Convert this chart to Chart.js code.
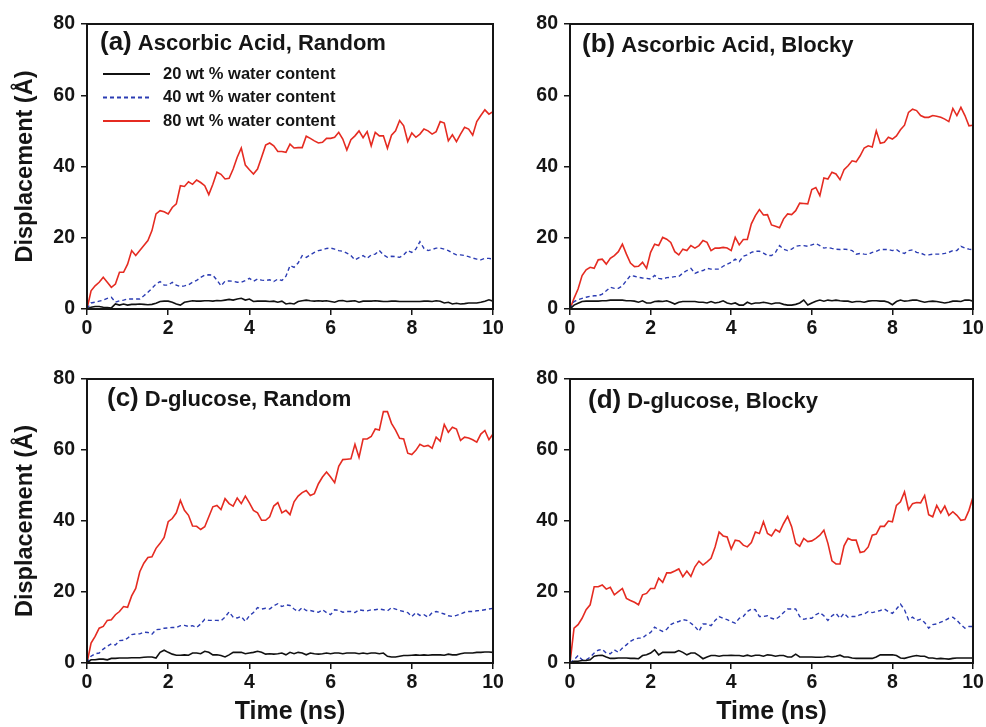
<!DOCTYPE html>
<html>
<head>
<meta charset="utf-8">
<script src="https://cdn.jsdelivr.net/npm/chart.js@4.4.0/dist/chart.umd.min.js"></script>
<style>
    html, body { margin: 0; padding: 0; background: #fff; }
    #wrap { position: relative; width: 986px; height: 727px; overflow: hidden; }
    #wrap canvas { position: absolute; }
</style>
</head>
<body>
<div id="wrap">
    <canvas id="chartA" width="510" height="350" style="left:0;top:0"></canvas>
    <canvas id="chartB" width="506" height="350" style="left:480px;top:0"></canvas>
    <canvas id="chartC" width="510" height="372" style="left:0;top:355px"></canvas>
    <canvas id="chartD" width="506" height="372" style="left:480px;top:355px"></canvas>
</div>
<script>
// sampling interval of the trajectories (ns)
const sampleStepNs = 0.1;

const seriesLabels = ['20 wt % water content', '40 wt % water content', '80 wt % water content'];
const panelTags = ['(a)', '(b)', '(c)', '(d)'];
const panelNames = ['Ascorbic Acid, Random', 'Ascorbic Acid, Blocky', 'D-glucose, Random', 'D-glucose, Blocky'];

// (a) ascorbic acid, random
const acidRandom20 = [0, 0.5, 0.7, 0.7, 0.5, 0.4, 0.3, 1.4, 1.1, 1.4, 1.1,
    1.3, 1.3, 1.4, 1.3, 1.2, 1.3, 1.6, 2.1, 2.2, 2.2,
    1.9, 1.4, 1.1, 1.9, 2.1, 2.3, 2.2, 2.2, 2.3, 2.3,
    2.2, 2.4, 2.3, 2.5, 2.7, 2.5, 2.8, 3.0, 2.5, 2.8,
    2.1, 2.2, 2.2, 2.2, 2.1, 2.2, 1.9, 2.2, 1.4, 1.6,
    1.4, 2.1, 2.3, 2.5, 2.3, 2.2, 2.3, 2.2, 2.3, 2.1,
    1.9, 2.3, 2.4, 2.1, 2.2, 2.3, 1.9, 2.2, 2.2, 2.2,
    2.3, 2.2, 2.1, 2.1, 2.2, 2.2, 2.1, 2.1, 2.1, 2.1,
    2.1, 2.1, 2.2, 2.2, 2.1, 2.3, 2.2, 1.7, 1.9, 1.4,
    1.6, 1.4, 1.5, 1.7, 1.7, 1.7, 1.9, 2.2, 2.6, 2.2];
const acidRandom40 = [0, 1.7, 1.9, 2.2, 2.5, 3.0, 3.3, 1.9, 2.3, 2.5, 2.8,
    2.8, 2.8, 2.8, 3.7, 4.7, 5.8, 7.0, 7.7, 6.7, 6.7,
    7.5, 6.7, 6.3, 6.5, 6.8, 7.5, 8.0, 8.9, 9.5, 9.6,
    9.5, 8.1, 6.5, 7.8, 7.9, 7.8, 7.5, 7.5, 8.0, 8.6,
    7.8, 8.4, 8.1, 8.0, 8.2, 7.7, 8.4, 8.0, 9.2, 12.2,
    11.7, 12.9, 15.0, 14.5, 15.2, 15.9, 16.4, 16.6, 17.0, 17.1,
    16.8, 16.4, 16.2, 15.7, 15.0, 13.8, 14.4, 15.0, 14.2, 15.2,
    15.4, 16.4, 15.2, 14.5, 14.8, 14.7, 14.5, 15.2, 16.4, 15.9,
    16.8, 18.9, 17.0, 16.4, 16.7, 17.1, 17.1, 16.8, 16.4, 15.7,
    15.2, 15.2, 15.0, 14.7, 14.3, 14.0, 13.8, 14.2, 14.2, 14.0];
const acidRandom80 = [0, 5.1, 6.5, 7.5, 8.9, 7.5, 6.1, 7.0, 10.3, 10.3, 12.6,
    16.4, 15.0, 16.4, 17.8, 19.2, 22.0, 26.7, 27.6, 27.3, 26.7,
    28.5, 29.5, 34.6, 34.4, 35.7, 35.0, 36.2, 35.5, 34.6, 32.1,
    35.0, 38.4, 37.8, 36.5, 36.7, 39.3, 42.6, 45.2, 40.4, 39.1,
    37.9, 39.3, 42.6, 46.0, 46.6, 45.8, 44.2, 44.2, 44.0, 46.3,
    45.2, 45.3, 45.3, 48.5, 47.9, 47.2, 46.6, 46.8, 47.9, 47.9,
    48.2, 49.6, 47.7, 44.6, 47.5, 48.6, 50.0, 48.1, 49.8, 45.8,
    49.6, 48.6, 48.6, 45.1, 48.8, 50.0, 52.9, 51.4, 47.0, 49.4,
    48.2, 49.1, 50.5, 50.0, 49.1, 49.8, 52.6, 52.2, 47.2, 48.9,
    47.0, 49.1, 51.0, 50.5, 48.8, 52.6, 54.3, 55.9, 54.7, 55.4];

// (b) ascorbic acid, blocky
const acidBlocky20 = [0, 1.1, 1.6, 2.1, 2.2, 2.2, 2.2, 2.2, 2.3, 2.3, 2.5,
    2.5, 2.5, 2.5, 2.3, 2.3, 2.2, 1.9, 2.3, 1.7, 1.7,
    2.1, 2.2, 2.1, 2.3, 1.9, 1.4, 1.9, 2.1, 2.1, 2.1,
    2.1, 1.9, 1.9, 1.7, 2.1, 1.7, 1.9, 2.3, 1.7, 1.4,
    1.7, 1.1, 1.1, 1.9, 1.4, 1.7, 1.7, 1.9, 1.7, 1.4,
    1.7, 1.7, 1.3, 1.1, 1.1, 1.3, 1.7, 2.5, 1.1, 1.7,
    2.2, 2.5, 2.2, 2.5, 2.3, 2.5, 2.3, 2.2, 2.2, 1.9,
    2.1, 2.1, 1.9, 2.2, 2.3, 2.3, 2.2, 2.2, 1.9, 1.2,
    2.1, 2.5, 2.2, 2.3, 2.5, 2.5, 2.2, 1.9, 2.1, 2.2,
    2.1, 1.9, 1.7, 1.9, 2.2, 2.2, 2.1, 2.5, 2.5, 2.2];
const acidBlocky40 = [0, 2.1, 2.6, 3.0, 3.3, 3.6, 3.7, 3.7, 4.2, 5.1, 6.1,
    5.8, 5.8, 6.5, 8.0, 9.4, 9.2, 8.9, 8.7, 8.6, 8.4,
    9.4, 8.6, 8.4, 8.8, 8.9, 9.1, 9.1, 10.1, 10.8, 11.4,
    10.0, 10.5, 10.8, 11.4, 11.2, 11.2, 11.2, 12.0, 12.6, 13.1,
    14.0, 13.3, 14.8, 15.2, 15.9, 16.2, 16.2, 15.7, 15.0, 15.0,
    15.9, 17.8, 16.8, 16.4, 16.8, 17.6, 17.8, 17.8, 17.6, 18.0,
    18.4, 17.8, 17.1, 17.3, 17.0, 16.8, 16.7, 16.8, 16.7, 16.4,
    15.4, 15.6, 15.4, 15.3, 15.9, 16.2, 16.7, 16.7, 16.7, 16.4,
    16.7, 15.9, 15.6, 16.4, 16.6, 15.9, 15.7, 15.2, 15.2, 15.4,
    15.4, 15.4, 15.6, 15.9, 16.4, 16.4, 17.6, 17.1, 16.8, 16.6];
const acidBlocky80 = [0, 3.0, 5.6, 9.4, 11.0, 11.7, 11.4, 13.8, 14.0, 12.6, 14.2,
    15.0, 16.1, 18.2, 15.4, 12.9, 11.9, 12.0, 13.1, 11.4, 15.9,
    18.2, 17.8, 20.1, 19.6, 18.7, 16.1, 15.2, 16.8, 16.4, 17.8,
    17.1, 17.8, 19.2, 18.7, 16.4, 17.1, 17.1, 17.3, 17.1, 16.4,
    20.1, 18.0, 19.5, 19.5, 23.9, 26.2, 27.9, 26.4, 26.5, 23.6,
    23.2, 22.8, 25.3, 26.7, 26.5, 27.6, 29.7, 29.6, 29.5, 33.5,
    34.1, 31.8, 36.8, 36.5, 38.4, 37.9, 36.3, 39.1, 40.2, 41.6,
    41.3, 43.0, 45.2, 45.8, 45.5, 50.0, 46.5, 46.8, 48.2, 47.7,
    48.6, 50.3, 51.6, 55.2, 56.1, 55.7, 54.3, 53.8, 53.8, 54.3,
    54.1, 53.8, 53.3, 52.6, 56.3, 54.3, 56.6, 54.3, 51.4, 51.6];

// (c) D-glucose, random
const glucoseRandom20 = [0, 0.9, 0.9, 1.1, 1.1, 0.9, 1.3, 1.3, 1.4, 1.4, 1.4,
    1.5, 1.5, 1.5, 1.6, 1.7, 1.7, 1.4, 3.0, 3.6, 3.0,
    2.5, 2.2, 2.2, 2.3, 2.2, 2.8, 2.8, 2.6, 3.3, 3.0,
    2.3, 2.3, 2.1, 1.7, 2.3, 3.0, 3.0, 3.0, 2.6, 2.8,
    3.0, 3.3, 3.0, 2.5, 2.6, 2.5, 2.6, 2.8, 2.3, 3.0,
    2.6, 3.0, 2.8, 2.3, 2.8, 2.6, 2.5, 2.6, 2.8, 2.6,
    2.8, 2.8, 2.6, 2.8, 2.8, 2.8, 2.6, 2.8, 2.6, 2.8,
    2.8, 2.6, 2.8, 1.9, 1.7, 1.7, 1.9, 2.1, 2.1, 2.2,
    2.3, 2.2, 2.3, 2.2, 2.3, 2.3, 2.3, 2.2, 2.5, 2.3,
    2.3, 2.6, 2.8, 2.8, 2.8, 3.0, 3.0, 3.1, 3.1, 3.0];
const glucoseRandom40 = [0, 1.9, 2.6, 2.8, 3.9, 4.7, 5.4, 5.1, 6.3, 6.4, 7.0,
    8.0, 8.2, 8.2, 8.7, 8.6, 8.1, 9.4, 9.5, 9.8, 9.9,
    10.0, 10.0, 10.5, 10.6, 10.3, 10.5, 10.0, 11.0, 12.3, 12.0,
    12.0, 12.0, 11.9, 12.9, 14.4, 12.9, 12.7, 13.1, 11.7, 13.3,
    14.2, 15.6, 15.2, 15.4, 15.2, 16.1, 16.7, 15.9, 16.4, 16.2,
    15.2, 14.5, 15.6, 14.8, 14.8, 14.5, 14.3, 15.0, 14.2, 13.6,
    15.0, 14.8, 14.3, 14.5, 14.5, 14.2, 15.0, 14.8, 14.7, 15.0,
    15.0, 15.2, 15.0, 14.7, 15.6, 15.2, 14.8, 14.5, 14.2, 13.1,
    14.2, 13.4, 13.6, 12.9, 14.2, 14.5, 14.2, 13.8, 13.3, 13.1,
    13.4, 13.8, 14.3, 14.5, 14.5, 14.7, 14.8, 15.0, 15.2, 15.4];
const glucoseRandom80 = [0, 5.6, 7.5, 9.8, 10.3, 12.0, 12.2, 13.6, 14.5, 15.9, 15.7,
    18.9, 21.0, 25.7, 28.1, 29.7, 29.9, 32.3, 33.7, 35.4, 39.8,
    40.7, 42.3, 45.8, 43.0, 41.6, 38.6, 38.5, 37.6, 38.4, 41.2,
    44.0, 44.4, 43.2, 46.3, 44.9, 44.2, 46.5, 44.9, 47.0, 45.1,
    43.0, 42.3, 40.2, 40.2, 41.2, 44.2, 45.2, 42.3, 43.0, 41.8,
    45.4, 47.0, 48.0, 48.6, 47.2, 47.7, 50.5, 52.4, 53.8, 52.4,
    50.8, 55.4, 57.3, 57.4, 57.5, 61.6, 57.9, 63.1, 63.1, 63.8,
    65.9, 65.6, 70.8, 70.8, 67.5, 65.6, 63.3, 63.1, 59.1, 58.7,
    59.9, 61.6, 61.0, 61.3, 60.5, 63.6, 62.5, 67.2, 65.0, 66.4,
    65.9, 62.7, 63.6, 63.4, 62.9, 62.2, 64.5, 65.5, 62.9, 64.5];

// (d) D-glucose, blocky
const glucoseBlocky20 = [0, 0.5, 0.5, 0.7, 0.7, 0.9, 1.9, 2.1, 2.2, 1.7, 1.3,
    1.3, 1.4, 1.4, 1.4, 1.3, 1.3, 1.2, 2.1, 2.3, 2.8,
    3.7, 2.3, 3.0, 3.0, 3.0, 3.0, 3.5, 3.0, 2.3, 2.8,
    2.8, 2.1, 1.2, 1.7, 2.1, 2.1, 1.9, 2.1, 2.1, 2.2,
    2.1, 2.1, 1.9, 2.2, 1.9, 2.2, 2.2, 1.9, 2.3, 2.2,
    1.9, 2.1, 2.1, 1.7, 1.7, 2.5, 1.7, 1.7, 1.7, 1.7,
    1.6, 1.6, 1.7, 1.9, 1.7, 1.9, 2.2, 1.7, 1.7, 1.4,
    1.3, 1.3, 1.3, 1.3, 1.3, 1.7, 2.3, 2.3, 2.3, 2.3,
    2.1, 1.4, 1.3, 1.6, 1.9, 2.1, 1.9, 1.9, 1.4, 1.4,
    1.2, 1.3, 1.2, 1.1, 1.3, 1.4, 1.4, 1.4, 1.4, 1.4];
const glucoseBlocky40 = [0, 0.9, 2.1, 0.9, 0.9, 1.6, 2.8, 3.6, 3.9, 2.8, 2.6,
    3.7, 3.0, 4.2, 5.1, 6.1, 6.7, 7.0, 7.0, 8.0, 8.6,
    10.1, 9.4, 8.9, 9.5, 10.8, 11.4, 11.7, 12.2, 12.0, 11.2,
    10.3, 8.9, 11.0, 11.0, 10.5, 12.0, 13.1, 12.6, 12.2, 11.7,
    11.2, 12.6, 13.1, 14.5, 15.2, 15.0, 13.1, 13.1, 13.3, 12.6,
    12.3, 13.1, 14.2, 15.2, 15.2, 15.2, 13.1, 12.3, 12.6, 12.6,
    13.6, 14.2, 13.3, 12.0, 13.3, 14.0, 12.6, 14.0, 12.9, 13.1,
    13.1, 13.6, 13.8, 14.5, 14.2, 14.5, 14.8, 15.2, 14.5, 14.0,
    15.2, 16.6, 15.0, 12.2, 12.9, 12.0, 12.3, 11.4, 9.8, 10.8,
    11.0, 11.5, 12.0, 12.6, 12.9, 12.0, 10.8, 9.8, 10.3, 10.3];
const glucoseBlocky80 = [0, 9.8, 10.8, 12.6, 15.0, 16.4, 21.5, 21.5, 22.0, 20.8, 21.3,
    19.2, 20.1, 21.0, 18.2, 17.6, 17.1, 16.4, 19.2, 19.6, 21.0,
    21.0, 23.9, 22.7, 25.4, 25.4, 25.9, 26.5, 24.3, 25.9, 24.4,
    27.1, 28.7, 27.6, 28.5, 29.5, 32.7, 36.9, 35.8, 35.5, 32.1,
    34.6, 34.4, 33.2, 32.7, 33.9, 36.9, 36.5, 39.8, 36.5, 35.8,
    37.6, 36.9, 39.3, 41.3, 38.4, 33.7, 32.9, 35.1, 34.2, 34.4,
    35.1, 36.0, 37.4, 33.7, 28.8, 27.9, 27.9, 33.0, 35.1, 34.6,
    34.6, 31.1, 31.4, 32.7, 36.0, 36.3, 38.5, 38.5, 40.0, 39.8,
    44.4, 45.4, 48.2, 43.2, 44.9, 45.2, 45.1, 47.2, 41.8, 41.2,
    44.4, 42.3, 44.2, 41.6, 42.6, 41.6, 40.2, 40.4, 43.0, 46.8];

const seriesColors = ['#111111', '#2b3cb3', '#e52b21'];
const seriesDash = [[], [4, 3], []];
const seriesWidth = [1.6, 1.4, 1.6];

const FONT = '"Liberation Sans", Arial, Helvetica, sans-serif';
const INK = '#151515';

function toPoints(vals) {
    return vals.map((v, i) => ({ x: i * sampleStepNs, y: v }));
}

// thick box round the plot area
const frameBox = {
    id: 'frameBox',
    afterDatasetsDraw(chart) {
        const { ctx, chartArea: a } = chart;
        ctx.save();
        ctx.strokeStyle = INK;
        ctx.lineWidth = 2;
        ctx.strokeRect(a.left, a.top, a.right - a.left, a.bottom - a.top);
        ctx.restore();
    }
};

// "(a) Ascorbic Acid, Random" style label inside the panel
const panelLabel = {
    id: 'panelLabel',
    afterDraw(chart, args, opts) {
        if (!opts.tag) return;
        const { ctx, chartArea: a } = chart;
        ctx.save();
        ctx.fillStyle = INK;
        ctx.textBaseline = 'alphabetic';
        ctx.textAlign = 'left';
        ctx.font = `bold 26px ${FONT}`;
        const x = a.left + opts.dx;
        const y = a.top + opts.dy;
        ctx.fillText(opts.tag, x, y);
        const w = ctx.measureText(opts.tag).width;
        ctx.font = `bold 22px ${FONT}`;
        ctx.fillText(opts.text, x + w + 6, y);
        ctx.restore();
    }
};

// legend block drawn inside panel (a)
const innerLegend = {
    id: 'innerLegend',
    afterDraw(chart, args, opts) {
        if (!opts.show) return;
        const { ctx, chartArea: a } = chart;
        ctx.save();
        ctx.font = `bold 16.5px ${FONT}`;
        ctx.textBaseline = 'middle';
        ctx.fillStyle = INK;
        chart.data.datasets.forEach((ds, i) => {
            const y = a.top + 50 + i * 23.5;
            const x0 = a.left + 16;
            ctx.strokeStyle = ds.borderColor;
            ctx.lineWidth = ds.borderWidth + 0.5;
            ctx.setLineDash(ds.borderDash || []);
            ctx.beginPath();
            ctx.moveTo(x0, y);
            ctx.lineTo(x0 + 47, y);
            ctx.stroke();
            ctx.fillText(ds.label, x0 + 60, y);
        });
        ctx.restore();
    }
};

function makePanel(canvasId, series, cfg) {
    const ctx = document.getElementById(canvasId).getContext('2d');
    return new Chart(ctx, {
        type: 'line',
        data: {
            datasets: series.map((vals, i) => ({
                label: seriesLabels[i],
                data: toPoints(vals),
                borderColor: seriesColors[i],
                borderDash: seriesDash[i],
                borderWidth: seriesWidth[i],
                pointRadius: 0,
                tension: 0,
                fill: false
            }))
        },
        options: {
            responsive: false,
            animation: false,
            devicePixelRatio: 1,
            layout: { padding: { left: 0, top: 24, right: cfg.padRight, bottom: cfg.padBottom } },
            plugins: {
                legend: { display: false },
                tooltip: { enabled: false },
                panelLabel: { tag: cfg.tag, text: cfg.text, dx: cfg.dx, dy: cfg.dy },
                innerLegend: { show: !!cfg.legend }
            },
            scales: {
                x: {
                    type: 'linear',
                    min: 0,
                    max: 10,
                    afterFit: (axis) => {
                        axis.height = cfg.xHeight;
                        axis.paddingLeft = 0;
                        axis.paddingRight = 0;
                    },
                    ticks: { stepSize: 2, color: INK, padding: 2, font: { family: FONT, size: 19.5, weight: 'bold' } },
                    grid: { drawOnChartArea: false, drawTicks: true, tickLength: 6, color: INK, lineWidth: 1.5 },
                    border: { display: true, color: INK, width: 2 },
                    title: {
                        display: !!cfg.xTitle,
                        text: 'Time (ns)',
                        color: INK,
                        padding: { top: 0, bottom: 0 },
                        font: { family: FONT, size: 25, weight: 'bold' }
                    }
                },
                y: {
                    min: 0,
                    max: 80,
                    afterFit: (axis) => {
                        axis.width = cfg.yWidth;
                        axis.paddingTop = 0;
                        axis.paddingBottom = 0;
                    },
                    ticks: { stepSize: 20, color: INK, padding: 6, font: { family: FONT, size: 19.5, weight: 'bold' } },
                    grid: { drawOnChartArea: false, drawTicks: true, tickLength: 6, color: INK, lineWidth: 1.5 },
                    border: { display: true, color: INK, width: 2 },
                    title: {
                        display: !!cfg.yTitle,
                        text: 'Displacement (Å)',
                        color: INK,
                        padding: { top: 11, bottom: 0 },
                        font: { family: FONT, size: 23.5, weight: 'bold' }
                    }
                }
            }
        },
        plugins: [frameBox, panelLabel, innerLegend]
    });
}

makePanel('chartA', [acidRandom20, acidRandom40, acidRandom80],
    { tag: panelTags[0], text: panelNames[0], dx: 13, dy: 26, yWidth: 87, xHeight: 30, padRight: 17, padBottom: 11, yTitle: true, legend: true });
makePanel('chartB', [acidBlocky20, acidBlocky40, acidBlocky80],
    { tag: panelTags[1], text: panelNames[1], dx: 12, dy: 28, yWidth: 90, xHeight: 30, padRight: 13, padBottom: 11 });
makePanel('chartC', [glucoseRandom20, glucoseRandom40, glucoseRandom80],
    { tag: panelTags[2], text: panelNames[2], dx: 20, dy: 27, yWidth: 87, xHeight: 64, padRight: 17, padBottom: 0, yTitle: true, xTitle: true });
makePanel('chartD', [glucoseBlocky20, glucoseBlocky40, glucoseBlocky80],
    { tag: panelTags[3], text: panelNames[3], dx: 18, dy: 29, yWidth: 90, xHeight: 64, padRight: 13, padBottom: 0, xTitle: true });
</script>
</body>
</html>
